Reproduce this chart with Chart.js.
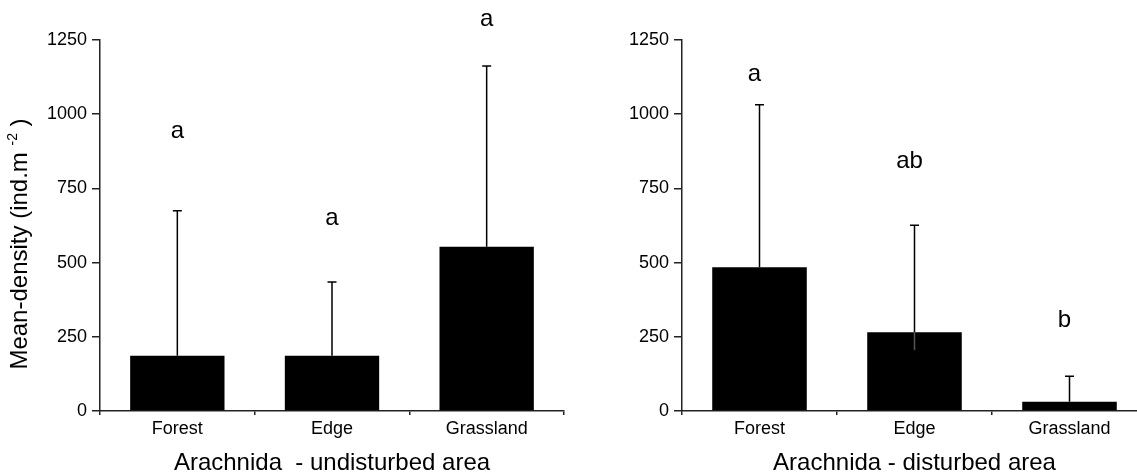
<!DOCTYPE html>
<html lang="en">
<head>
    <meta charset="UTF-8">
    <title>Arachnida mean density</title>
    <style>
        html, body {
            margin: 0;
            padding: 0;
            background: #fff;
            overflow: hidden;
        }
        body {
            width: 1137px;
            height: 475px;
            position: relative;
        }
        .panel {
            position: absolute;
            top: 0;
            height: 475px;
        }
        #leftPanel { left: 0; width: 570px; }
        #rightPanel { left: 570px; width: 580px; }
    </style>
</head>
<body>
    <div class="panel" id="leftPanel"><canvas id="leftChart" width="570" height="475"></canvas></div>
    <div class="panel" id="rightPanel"><canvas id="rightChart" width="580" height="475"></canvas></div>

    <script src="https://cdn.jsdelivr.net/npm/chart.js"></script>
    <script>
        const categories = ["Forest", "Edge", "Grassland"];
        const yTicks = [0, 250, 500, 750, 1000, 1250];

        // undisturbed area
        const undisturbedMean = [186, 186, 553];
        const undisturbedUpper = [675, 435, 1162];
        const undisturbedLower = [186, 186, 553];
        const undisturbedLetters = ["a", "a", "a"];
        const undisturbedLetterAt = [920, 628, 1296];

        // disturbed area
        const disturbedMean = [484, 265, 31];
        const disturbedUpper = [1032, 626, 117];
        const disturbedLower = [484, 205, 31];
        const disturbedLetters = ["a", "ab", "b"];
        const disturbedLetterAt = [1112, 819, 283];

        const FONT = "'Liberation Sans', Arial, Helvetica, sans-serif";
        Chart.defaults.font.family = FONT;
        Chart.defaults.color = "#000";

        function errorBarsPlugin(mean, upper, lower, letters, letterAt, letterShift) {
            return {
                id: "errorBars",
                afterDatasetsDraw(chart) {
                    const ctx = chart.ctx;
                    const xs = chart.scales.x;
                    const ys = chart.scales.y;
                    ctx.save();
                    ctx.lineWidth = 1.5;
                    mean.forEach((m, i) => {
                        const x = xs.getPixelForValue(i);
                        const yMean = ys.getPixelForValue(m);
                        const yHi = ys.getPixelForValue(upper[i]);
                        const yLo = ys.getPixelForValue(lower[i]);

                        ctx.strokeStyle = "#000";
                        ctx.beginPath();
                        ctx.moveTo(x, yMean);
                        ctx.lineTo(x, yHi);
                        ctx.moveTo(x - 4.5, yHi);
                        ctx.lineTo(x + 4.5, yHi);
                        ctx.stroke();

                        // lower whisker shows faintly inside the bar
                        if (lower[i] < m) {
                            ctx.strokeStyle = "#555";
                            ctx.beginPath();
                            ctx.moveTo(x, yMean);
                            ctx.lineTo(x, yLo);
                            ctx.stroke();
                        }

                        ctx.fillStyle = "#000";
                        ctx.font = "24px " + FONT;
                        ctx.textAlign = "center";
                        ctx.textBaseline = "alphabetic";
                        ctx.fillText(letters[i], x + letterShift, ys.getPixelForValue(letterAt[i]));
                    });
                    ctx.restore();
                }
            };
        }

        const yTitlePlugin = {
            id: "yTitle",
            afterDraw(chart) {
                const ctx = chart.ctx;
                const main = "Mean-density (ind.m ";
                const sup = "-2";
                const tail = " )";
                ctx.save();
                ctx.translate(27, 244);
                ctx.rotate(-Math.PI / 2);
                ctx.fillStyle = "#000";
                ctx.textBaseline = "alphabetic";
                ctx.textAlign = "left";
                ctx.font = "24px " + FONT;
                const wMain = ctx.measureText(main).width;
                const wTail = ctx.measureText(tail).width;
                ctx.font = "14px " + FONT;
                const wSup = ctx.measureText(sup).width;
                let x = -(wMain + wSup + wTail) / 2;
                ctx.font = "24px " + FONT;
                ctx.fillText(main, x, 0);
                x += wMain;
                ctx.font = "14px " + FONT;
                ctx.fillText(sup, x, -10);
                x += wSup;
                ctx.font = "24px " + FONT;
                ctx.fillText(tail, x, 0);
                ctx.restore();
            }
        };

        function makeChart(canvasId, title, mean, yAxisWidth, padRight, plugins) {
            return new Chart(document.getElementById(canvasId), {
                type: "bar",
                data: {
                    labels: categories,
                    datasets: [{
                        data: mean,
                        backgroundColor: "#000",
                        borderWidth: 0,
                        barPercentage: 0.61,
                        categoryPercentage: 1.0
                    }]
                },
                options: {
                    responsive: false,
                    animation: false,
                    devicePixelRatio: 1,
                    layout: {
                        padding: { top: 40, right: padRight, left: 0, bottom: 0 }
                    },
                    plugins: {
                        legend: { display: false },
                        tooltip: { enabled: false }
                    },
                    scales: {
                        x: {
                            offset: true,
                            grid: {
                                offset: true,
                                drawOnChartArea: false,
                                drawTicks: true,
                                tickLength: 4,
                                color: "#222",
                                lineWidth: 1.5
                            },
                            border: { display: true, color: "#222", width: 1.5 },
                            ticks: {
                                font: { size: 18 },
                                color: "#000",
                                padding: 3,
                                maxRotation: 0
                            },
                            title: {
                                display: true,
                                text: title,
                                font: { size: 24 },
                                color: "#000",
                                padding: { top: 0, bottom: -3 }
                            },
                            afterFit(scale) {
                                scale.height = 64;
                            }
                        },
                        y: {
                            min: 0,
                            max: 1250,
                            afterBuildTicks(scale) {
                                scale.ticks = yTicks.map(v => ({ value: v }));
                            },
                            grid: {
                                drawOnChartArea: false,
                                drawTicks: true,
                                tickLength: 8,
                                color: "#222",
                                lineWidth: 1.5
                            },
                            border: { display: true, color: "#222", width: 1.5 },
                            ticks: {
                                font: { size: 18 },
                                color: "#000",
                                padding: 5,
                                callback: v => String(v)
                            },
                            afterFit(scale) {
                                scale.width = yAxisWidth;
                            }
                        }
                    }
                },
                plugins: plugins
            });
        }

        makeChart("leftChart", "Arachnida  - undisturbed area", undisturbedMean, 100, 6, [
            errorBarsPlugin(undisturbedMean, undisturbedUpper, undisturbedLower,
                undisturbedLetters, undisturbedLetterAt, 0),
            yTitlePlugin
        ]);

        makeChart("rightChart", "Arachnida - disturbed area", disturbedMean, 112, 3, [
            errorBarsPlugin(disturbedMean, disturbedUpper, disturbedLower,
                disturbedLetters, disturbedLetterAt, -5)
        ]);
    </script>
</body>
</html>
